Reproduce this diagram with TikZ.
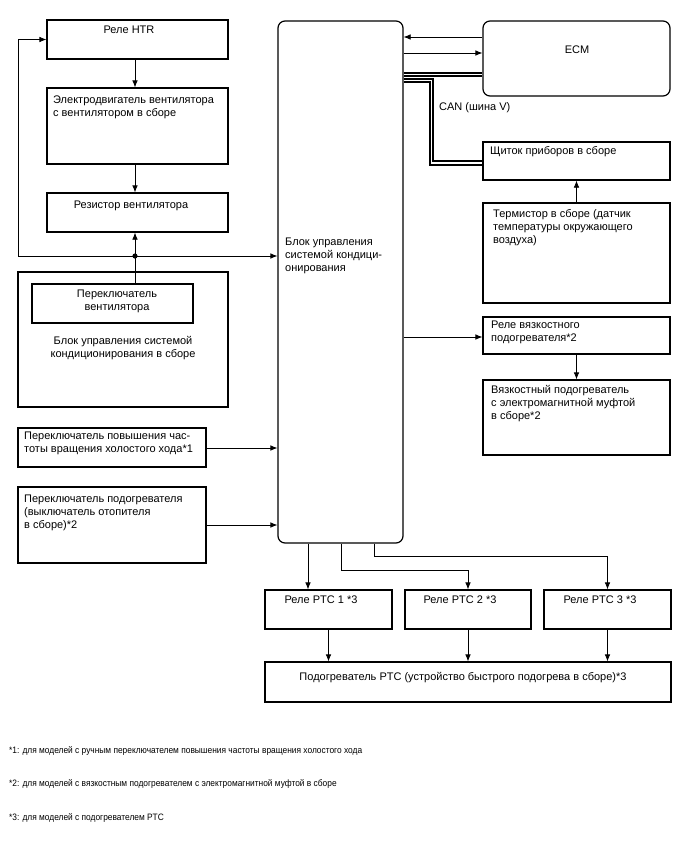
\documentclass[tikz,border=0pt]{standalone}
\usepackage{fontspec}
\setmainfont{Liberation Sans}
\usetikzlibrary{arrows.meta,fit,positioning}
\begin{document}
\begin{tikzpicture}[x=1pt,y=-1pt,
  box/.style={draw, line width=1.2pt, inner sep=0pt},
  rbox/.style={box, rounded corners=7pt},
  txt/.style={inner sep=0pt, font=\fontsize{11}{13}\selectfont},
  fn/.style={inner sep=0pt, font=\fontsize{9.3}{11}\selectfont, anchor=west},
  arr/.style={line width=0.7pt, -{Latex[length=7pt,width=5.5pt]}},
  ln/.style={line width=0.7pt},
  bus/.style={line width=2pt, double=white, double distance=1.5pt}]
\useasboundingbox (0,0) rectangle (688,852);

% left column
\node[box, fit={(47,20) (228,59)}] (htr) {};
\node[txt, anchor=north] (htrT) at (129,26) {Реле HTR};
\node[box, fit={(47,88) (228,164)}] (motor) {};
\node[txt, anchor=north west, align=left] (motorT) at (53,96) {Электродвигатель вентилятора\\с вентилятором в сборе};
\node[box, fit={(47,193) (228,232)}] (res) {};
\node[txt, anchor=north] (resT) at (131,201) {Резистор вентилятора};
\node[box, fit={(18,272) (228,407)}] (ac) {};
\node[box, fit={(32,284) (193,323)}] (fansw) {};
\node[txt, anchor=north, align=center] (fanswT) at (117,290) {Переключатель\\вентилятора};
\node[txt, anchor=north, align=center] (acT) at (123,336) {Блок управления системой\\кондиционирования в сборе};
\node[box, fit={(18,428) (206,467)}] (idle) {};
\node[txt, anchor=north west, align=left] (idleT) at (24,432) {Переключатель повышения час-\\тоты вращения холостого хода*1};
\node[box, fit={(18,487) (206,563)}] (heat) {};
\node[txt, anchor=north west, align=left] (heatT) at (24,495) {Переключатель подогревателя\\(выключатель отопителя\\в сборе)*2};

% central block
\node[rbox, fit={(278,21) (403,543)}] (block) {};
\node[txt, anchor=north west, align=left] (blockT) at (285,238) {Блок управления\\системой кондици-\\онирования};

% right column
\node[rbox, fit={(483,21) (670,96)}] (ecm) {};
\node[txt] (ecmT) at (577,50) {ECM};
\node[box, fit={(483,142) (670,180)}] (cluster) {};
\node[txt, anchor=north west] (clusterT) at (490,146) {Щиток приборов в сборе};
\node[box, fit={(483,203) (670,303)}] (therm) {};
\node[txt, anchor=north west, align=left] (thermT) at (493,209) {Термистор в сборе (датчик\\температуры окружающего\\воздуха)};
\node[txt, anchor=north west] (canT) at (439,102) {CAN (шина V)};
\node[box, fit={(483,317) (670,354)}] (vrel) {};
\node[txt, anchor=north west, align=left] (vrelT) at (491,321) {Реле вязкостного\\подогревателя*2};
\node[box, fit={(483,380) (670,455)}] (vheat) {};
\node[txt, anchor=north west, align=left] (vheatT) at (491,385) {Вязкостный подогреватель\\с электромагнитной муфтой\\в сборе*2};

% bottom
\node[box, fit={(265,590) (392,629)}] (ptc1) {};
\node[txt, anchor=north] (ptc1T) at (321,596) {Реле PTC 1 *3};
\node[box, fit={(405,590) (531,629)}] (ptc2) {};
\node[txt, anchor=north] (ptc2T) at (460,596) {Реле PTC 2 *3};
\node[box, fit={(544,590) (671,629)}] (ptc3) {};
\node[txt, anchor=north] (ptc3T) at (600,596) {Реле PTC 3 *3};
\node[box, fit={(265,662) (671,702)}] (ptcheat) {};
\node[txt, anchor=north] (ptcheatT) at (463,672) {Подогреватель PTC (устройство быстрого подогрева в сборе)*3};

% footnotes
\node[fn] (fn1) at (9,751) {\scalebox{0.9}[1]{*1: для моделей с ручным переключателем повышения частоты вращения холостого хода}};
\node[fn] (fn2) at (9,784) {\scalebox{0.9}[1]{*2: для моделей с вязкостным подогревателем с электромагнитной муфтой в сборе}};
\node[fn] (fn3) at (9,818) {\scalebox{0.9}[1]{*3: для моделей с подогревателем PTC}};

% connectors left
\coordinate (j) at (135,256);
\coordinate (lc) at (18,256);
\draw[arr] (htr.south -| j) -- (motor.north -| j);
\draw[arr] (motor.south -| j) -- (res.north -| j);
\draw[ln] (fansw.north -| j) -- (j);
\draw[arr] (j) -- (res.south -| j);
\draw[arr] (j) -- (block.west |- j);
\draw[arr] (j) -- (lc) |- (htr.west);
\fill (j) circle (2.6);
\draw[arr] (idle.east |- 0,448) -- (block.west |- 0,448);
\draw[arr] (heat.east |- 0,525) -- (block.west |- 0,525);

% connectors right
\draw[arr] (ecm.west |- 0,37) -- (block.east |- 0,37);
\draw[arr] (block.east |- 0,53) -- (ecm.west |- 0,53);
\coordinate (bj) at (431.5,80.5);
\draw[bus] (block.east |- 0,80.5) -- (bj) |- (cluster.west |- 0,163);
\draw[bus] (block.east |- 0,74.5) -- (ecm.west |- 0,74.5);
\draw[arr] (therm.north) -- (cluster.south);
\draw[arr] (block.east |- 0,337) -- (vrel.west |- 0,337);
\draw[arr] (vrel.south) -- (vheat.north);

% connectors bottom
\draw[arr] (block.south -| 308,0) -- (ptc1.north -| 308,0);
\draw[arr] (block.south -| 341,0) -- (341,570) -| (ptc2.north);
\draw[arr] (block.south -| 374,0) -- (374,556) -| (ptc3.north);
\draw[arr] (ptc1.south) -- (ptc1.south |- ptcheat.north);
\draw[arr] (ptc2.south) -- (ptc2.south |- ptcheat.north);
\draw[arr] (ptc3.south) -- (ptc3.south |- ptcheat.north);
\end{tikzpicture}
\end{document}
